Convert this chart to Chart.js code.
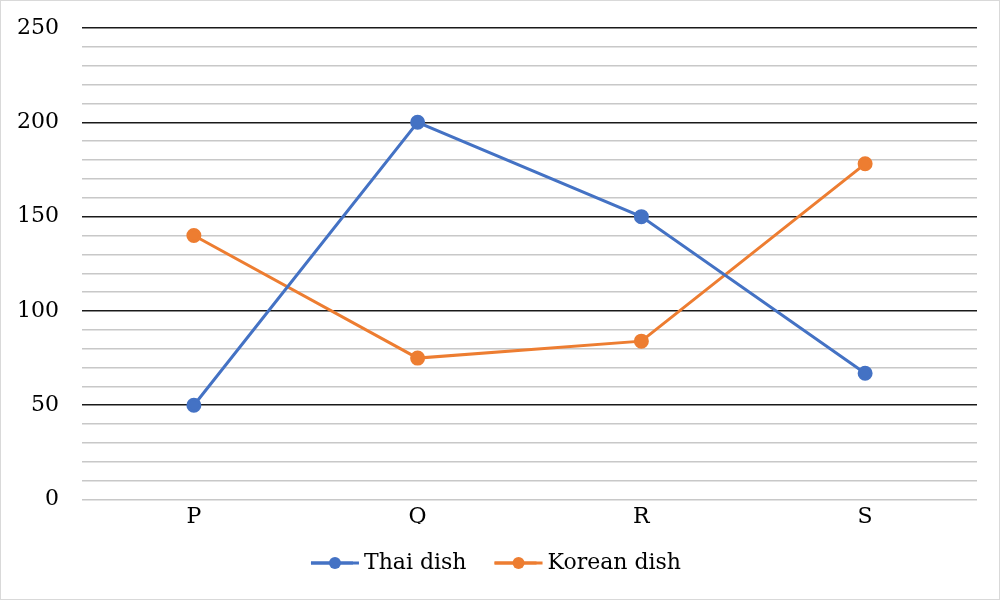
<!DOCTYPE html>
<html>
<head>
<meta charset="utf-8">
<script src="https://cdn.jsdelivr.net/npm/chart.js@4"></script>
<style>
  html, body { margin: 0; padding: 0; background: #fff; }
  #wrap { width: 998px; height: 598px; border: 1px solid #d9d9d9; }
</style>
</head>
<body>
<div id="wrap"><canvas id="lineChart" width="998" height="598"></canvas></div>
<script>
const categories = ['P', 'Q', 'R', 'S'];
const thaiDish = [50, 200, 150, 67];
const koreanDish = [140, 75, 84, 178];
const seriesNames = ['Thai dish', 'Korean dish'];

const FONT = "'DejaVu Serif', 'Liberation Serif', serif";

const ctx = document.getElementById('lineChart').getContext('2d');
new Chart(ctx, {
    type: 'line',
    data: {
        labels: categories,
        datasets: [{
            label: seriesNames[0],
            data: thaiDish,
            borderColor: '#4472c4',
            backgroundColor: '#4472c4',
            borderWidth: 3,
            pointRadius: 6,
            pointHoverRadius: 6,
            tension: 0
        }, {
            label: seriesNames[1],
            data: koreanDish,
            borderColor: '#ed7d31',
            backgroundColor: '#ed7d31',
            borderWidth: 3,
            pointRadius: 6,
            pointHoverRadius: 6,
            tension: 0
        }]
    },
    options: {
        responsive: false,
        animation: false,
        layout: { padding: { top: 27, left: 14, right: 22, bottom: 15 } },
        plugins: {
            tooltip: { enabled: false },
            legend: {
                position: 'bottom',
                labels: {
                    font: { family: FONT, size: 22 },
                    color: '#000',
                    boxWidth: 42,
                    boxHeight: 3,
                    padding: 28,
                    generateLabels(chart) {
                        return chart.data.datasets.map((ds, i) => ({
                            text: ds.label,
                            fillStyle: ds.borderColor,
                            strokeStyle: ds.borderColor,
                            lineWidth: 0,
                            datasetIndex: i,
                            fontColor: '#000'
                        }));
                    }
                }
            }
        },
        scales: {
            x: {
                offset: true,
                afterFit: scale => { scale.height -= 10; },
                grid: { display: false, drawTicks: false },
                border: { display: false },
                ticks: { font: { family: FONT, size: 22 }, color: '#000', padding: 4 }
            },
            y: {
                min: 0,
                max: 250,
                border: { display: false },
                afterFit: scale => {
                    scale.width = 67;
                    scale.paddingTop = 0;
                },
                grid: {
                    drawTicks: false,
                    color: c => (c.tick.value % 50 === 0 && c.tick.value !== 0) ? '#1a1a1a' : '#c8c8c8',
                    lineWidth: c => (c.tick.value % 50 === 0 && c.tick.value !== 0) ? 1.6 : 1.4
                },
                ticks: {
                    stepSize: 10,
                    autoSkip: false,
                    padding: 23,
                    font: { family: FONT, size: 22 },
                    color: '#000',
                    callback: v => (v % 50 === 0 ? v : '')
                }
            }
        }
    },
    plugins: [{
        // longer legend line with a round marker in the middle
        id: 'legendDots',
        afterDraw(chart) {
            const legend = chart.legend;
            if (!legend || !legend.legendHitBoxes) return;
            const c = chart.ctx;
            legend.legendHitBoxes.forEach((box, i) => {
                const color = chart.data.datasets[i].borderColor;
                const cy = box.top + box.height / 2;
                c.save();
                c.strokeStyle = color;
                c.lineWidth = 3;
                c.beginPath();
                c.moveTo(box.left, cy);
                c.lineTo(box.left + 48, cy);
                c.stroke();
                c.fillStyle = color;
                c.beginPath();
                c.arc(box.left + 24, cy, 6, 0, Math.PI * 2);
                c.fill();
                c.restore();
            });
        }
    }]
});
</script>
</body>
</html>
